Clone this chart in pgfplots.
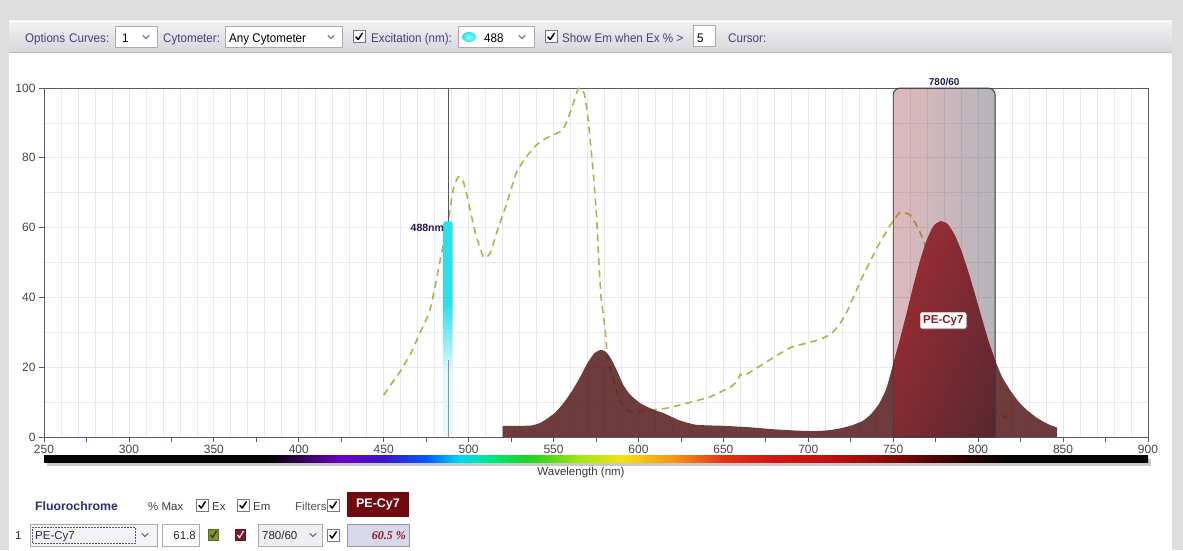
\documentclass[border=0pt]{standalone}
\usepackage{pgfplots}
\pgfplotsset{compat=1.18}
\usepackage{pgfplotstable}
\usepackage{fontspec}
\setmainfont{Liberation Sans}
\newfontfamily\narrowfont[FakeStretch=0.93]{Liberation Sans}
\newfontfamily\timesfont{Liberation Serif}
\usetikzlibrary{shadows}

% ---------- colours ----------
\definecolor{bggrey}{RGB}{222,222,222}
\definecolor{tbtop}{RGB}{242,242,244}
\definecolor{tbbot}{RGB}{214,214,220}
\definecolor{tbline}{RGB}{188,188,195}
\definecolor{axisc}{RGB}{95,85,115}
\definecolor{tickc}{RGB}{70,70,70}
\definecolor{gridc}{RGB}{232,232,236}
\definecolor{excol}{RGB}{172,182,70}
\definecolor{emcol}{RGB}{85,26,26}
\definecolor{emtop}{RGB}{172,40,46}
\definecolor{embot}{RGB}{112,36,40}
\definecolor{filtL}{RGB}{161,55,64}
\definecolor{filtR}{RGB}{45,45,62}
\definecolor{filtline}{RGB}{60,55,62}
\definecolor{laserc}{RGB}{40,225,235}
\definecolor{laserin}{RGB}{150,250,255}
\definecolor{lasfade}{RGB}{228,248,250}
\definecolor{exline}{RGB}{85,85,90}
\definecolor{tbtext}{RGB}{72,62,128}
\definecolor{boxc}{RGB}{170,170,175}
\definecolor{cbx}{RGB}{120,120,125}
\definecolor{chevc}{RGB}{80,90,125}
\definecolor{lab780}{RGB}{30,30,80}
\definecolor{lab488}{RGB}{45,25,75}
\definecolor{pecy}{RGB}{140,25,35}
\definecolor{pebox}{RGB}{205,205,205}
\definecolor{fluoc}{RGB}{40,50,110}
\definecolor{darkred}{RGB}{112,10,14}
\definecolor{lavender}{RGB}{216,216,236}
\definecolor{lavline}{RGB}{150,150,165}
\definecolor{wlc}{RGB}{55,55,60}
\definecolor{ptext}{RGB}{60,60,70}
\definecolor{ftext}{RGB}{80,80,100}
\definecolor{vtext}{RGB}{40,40,50}
\definecolor{ddtext}{RGB}{40,40,80}
\definecolor{ddfill}{RGB}{244,244,246}
\definecolor{dotc}{RGB}{90,90,90}
\definecolor{selfill}{RGB}{238,238,240}
\definecolor{grnline}{RGB}{90,110,30}
\definecolor{grnfill}{RGB}{125,150,40}
\definecolor{grnchk}{RGB}{40,50,10}
\definecolor{redline}{RGB}{100,20,30}
\definecolor{redfill}{RGB}{130,22,35}
% spectrum stops
\definecolor{sp400}{RGB}{45,0,75}
\definecolor{sp425}{RGB}{110,0,200}
\definecolor{sp450}{RGB}{60,20,200}
\definecolor{sp475}{RGB}{0,90,255}
\definecolor{sp495}{RGB}{0,220,240}
\definecolor{sp515}{RGB}{0,230,120}
\definecolor{sp535}{RGB}{30,210,30}
\definecolor{sp565}{RGB}{160,230,20}
\definecolor{sp590}{RGB}{245,225,20}
\definecolor{sp620}{RGB}{245,150,20}
\definecolor{sp650}{RGB}{225,50,20}
\definecolor{sp680}{RGB}{210,20,20}
\definecolor{sp710}{RGB}{200,15,15}
\definecolor{sp750}{RGB}{130,10,10}
\definecolor{sp790}{RGB}{50,0,0}

% 250 nm -> 25bp, 900 nm -> 75bp
\pgfdeclarehorizontalshading{spectrum}{100bp}{%
  color(0bp)=(black); color(25bp)=(black); color(35bp)=(black);
  color(36.54bp)=(sp400); color(38.46bp)=(sp425); color(40.38bp)=(sp450);
  color(42.31bp)=(sp475); color(43.85bp)=(sp495); color(45.38bp)=(sp515);
  color(46.92bp)=(sp535); color(49.23bp)=(sp565); color(51.15bp)=(sp590);
  color(53.46bp)=(sp620); color(55.77bp)=(sp650); color(58.08bp)=(sp680);
  color(60.38bp)=(sp710); color(63.46bp)=(sp750); color(66.54bp)=(sp790);
  color(68.85bp)=(black); color(75bp)=(black); color(100bp)=(black)}
\pgfdeclareverticalshading{laser}{100bp}{%
  color(0bp)=(lasfade); color(25bp)=(lasfade); color(40bp)=(lasfade);
  color(56bp)=(laserc); color(75bp)=(laserc); color(100bp)=(laserc)}

% ---------- spectra ----------
\pgfplotstableread{
wl    ex
450   12.0
455   15.5
460   19.0
466   24.0
471   29.5
477   36.0
481   45.0
485   55.0
488   62.0
491   71.0
494   74.6
497   73.0
500   67.0
504   58.4
508.5 51.7
510.5 51.5
513   53.0
517   59.3
522.5 67.0
528   75.6
534   80.3
540   83.7
546   85.7
554   87.5
557   89.4
561   94.6
564.7 99.9
568   98.5
570.4 90.8
573.4 75.6
575.5 62.0
576.5 51.7
578   40.0
580.4 30.7
582   22.0
585   17.0
587.5 12.6
591   8.6
595   7.4
599   7.2
607   7.7
617   8.3
628.7 9.7
642   11.5
654   14.3
658   16.0
660   18.0
662   17.5
672   20.5
689   25.5
700   27.0
707   28.0
713   29.5
718   32.0
722.8 36.0
732   46.0
742   55.6
750   62.0
754   64.3
760   63.6
766   58.4
772   50.7
778   42.0
783.6 32.6
791   23.0
801   13.5
809   7.7
817   5.4
}\extab

\pgfplotstableread{
wl    em
520   3.2
530   3.2
537   3.3
542   4.0
546   5.2
551   7.0
556   9.8
561   13.3
566   17.5
570   21.2
574   24.0
578   25.0
581   24.3
584   22.3
588   18.3
591   15.0
595   12.2
601   9.7
608   8.0
615   6.8
624   4.8
634   3.5
650   3.2
665   2.8
680   2.2
695   1.8
705   1.7
713   2.0
720   2.6
726   3.4
732   4.6
737   6.6
742   9.8
746   14.0
750   21.0
754   28.0
758   35.6
762   43.5
766   50.8
770   56.7
774   60.6
778   61.8
782   61.0
786   58.0
790   53.4
794   47.6
798   41.0
802   34.2
806   27.6
810   22.0
814   17.3
819   13.3
824   10.0
829   7.6
834   5.7
838   4.5
842   3.5
846.5 2.7
}\emtab

% widgets (pixel units, y downwards)
\newcommand\chk[2]{%
  \draw[draw=cbx, fill=white, line width=0.6pt] (#1,#2) rectangle ++(12,12);
  \draw[line width=1.5pt, black, line cap=round, line join=round]
    ({#1+3},{#2+6.5}) -- ({#1+5.2},{#2+9}) -- ({#1+9.3},{#2+2.8});}
\newcommand\chev[2]{%
  \draw[chevc, line width=0.9pt] ({#1-3.2},{#2-1.6}) -- (#1,{#2+1.6}) -- ({#1+3.2},{#2-1.6});}
\newcommand\wbox[4]{%
  \draw[draw=boxc, fill=white, line width=0.6pt] (#1,#2) rectangle (#3,#4);}

\newcommand\tbfont{\narrowfont\fontsize{12.5}{14}\selectfont}
\newcommand\pfont{\fontsize{11.5}{13}\selectfont}

\begin{document}
\begin{tikzpicture}
\useasboundingbox (0pt,0pt) rectangle (1183pt,550pt);

% ---------- window, toolbar, grid ----------
\begin{scope}[x=1pt, y=-1pt, shift={(0pt,550pt)}]
  \fill[bggrey] (0,0) rectangle (1183,550);
  \fill[white] (9,52) rectangle (1172,550);
  \shade[top color=tbtop, bottom color=tbbot] (9,21) rectangle (1172,52);
  \draw[tbline, line width=0.8pt] (9,52) -- (1172,52);
  \draw[white, line width=0.8pt] (9,21.5) -- (1172,21.5);

  \node[anchor=base west, inner sep=0, font=\tbfont, text=tbtext] at (25,42.5) {Options};
  \node[anchor=base west, inner sep=0, font=\tbfont, text=tbtext] at (69,42.5) {Curves:};
  \wbox{115}{26}{157}{47}
  \node[anchor=base west, inner sep=0, font=\tbfont] at (122,42.5) {1};
  \chev{146}{37}
  \node[anchor=base west, inner sep=0, font=\tbfont, text=tbtext] at (163,42.5) {Cytometer:};
  \wbox{225}{26}{342}{47}
  \node[anchor=base west, inner sep=0, font=\tbfont] at (229,42.5) {Any Cytometer};
  \chev{331}{37}
  \chk{353}{30.5}
  \node[anchor=base west, inner sep=0, font=\tbfont, text=tbtext] at (371,42.5) {Excitation (nm):};
  \wbox{458}{26}{534}{47}
  \shade[inner color=laserin, outer color=laserc] (469,37) ellipse (7 and 5);
  \node[anchor=base west, inner sep=0, font=\tbfont] at (484,42.5) {488};
  \chev{522}{37}
  \chk{545}{30.5}
  \node[anchor=base west, inner sep=0, font=\tbfont, text=tbtext] at (562,42.5) {Show Em when Ex \% >};
  \wbox{693}{25}{715}{46}
  \node[anchor=base west, inner sep=0, font=\tbfont] at (697,42.5) {5};
  \node[anchor=base west, inner sep=0, font=\tbfont, text=tbtext] at (728,42.5) {Cursor:};

  % plot grid: 10 nm and 10 % steps
  \foreach \w in {260,270,...,890}
    \draw[gridc, line width=0.7pt] ({44+1.698462*(\w-250)},88) -- ++(0,349);
  \foreach \v in {10,20,...,90}
    \draw[gridc, line width=0.7pt] (44,{437-3.49*\v}) -- (1148,{437-3.49*\v});
\end{scope}

% ---------- spectra axis ----------
\begin{axis}[
  at={(44pt,113pt)}, anchor=south west,
  scale only axis, width=1104pt, height=349pt,
  xmin=250, xmax=900, ymin=0, ymax=100,
  xtick={250,300,...,900}, minor xtick={275,325,...,875},
  ytick={0,20,...,100},
  tick pos=left, tick align=outside,
  major tick length=5pt, minor tick length=5pt,
  axis line style={draw=axisc, line width=0.9pt},
  tick style={draw=axisc, line width=0.8pt},
  ticklabel style={font=\fontsize{12}{14}\selectfont, text=tickc},
  /pgf/number format/assume math mode=true,
  /pgf/number format/1000 sep={},
  clip=false,
]
  % excitation (dashed)
  \addplot[excol, line width=1.6pt, dash pattern=on 7pt off 5pt, smooth, tension=0.35]
    table[x=wl, y=ex] {\extab};
  % 488 nm laser line
  \addplot[draw=exline, line width=1pt] coordinates {(488,0) (488,100)};
  \addplot[draw=none, shade, shading=laser, rounded corners=2pt] coordinates {(485.2,61.8) (490.6,61.8)} \closedcycle;
  \addplot[draw=exline, line width=0.8pt, opacity=0.6] coordinates {(488,0) (488,22)};
  % emission
  \addplot[draw=none, fill=emcol, fill opacity=0.85, smooth, tension=0.35]
    table[x=wl, y=em] {\emtab} \closedcycle;
  \addplot[draw=none, top color=emtop, bottom color=embot, fill opacity=0.92, smooth, tension=0.35,
    restrict x to domain=750:810]
    table[x=wl, y=em] {\emtab} \closedcycle;
  % 780/60 band-pass filter
  \draw[draw=filtline, line width=0.9pt, left color=filtL, right color=filtR, fill opacity=0.35]
    (axis cs:750,0) [rounded corners=7pt] -- (axis cs:750,100) -- (axis cs:810,100)
    [sharp corners] -- (axis cs:810,0) -- cycle;
  \node[font=\bfseries\fontsize{10}{12}\selectfont, text=lab780] at (axis cs:780,101.8) {780/60};
  \node[anchor=east, inner sep=0, font=\bfseries\fontsize{10.5}{12}\selectfont, text=lab488]
    at (axis cs:485.6,59.8) {488nm};
  \node[fill=white, draw=pebox, rounded corners=1.5pt, inner sep=2.8pt,
    font=\bfseries\fontsize{11.5}{13}\selectfont, text=pecy,
    drop shadow={opacity=0.35, shadow xshift=1pt, shadow yshift=-1.2pt}]
    at (axis cs:779.5,33.4) {PE-Cy7};
\end{axis}

% ---------- colour bar and lower panel ----------
\begin{scope}[x=1pt, y=-1pt, shift={(0pt,550pt)}]
  \fill[black, opacity=0.22] (47,459) rectangle (1151,465.5);
  \shade[shading=spectrum] (44,455) rectangle (1148,462);
  \node[font=\fontsize{11.5}{13}\selectfont, text=wlc] at (581,473) {Wavelength (nm)};

  \node[anchor=base west, inner sep=0, font=\bfseries\fontsize{12.3}{14}\selectfont, text=fluoc] at (35,510) {Fluorochrome};
  \node[anchor=base west, inner sep=0, font=\pfont, text=ptext] at (148,510) {\% Max};
  \chk{196}{499}
  \node[anchor=base west, inner sep=0, font=\pfont, text=ptext] at (212,510) {Ex};
  \chk{237}{499}
  \node[anchor=base west, inner sep=0, font=\pfont, text=ptext] at (253,510) {Em};
  \node[anchor=base west, inner sep=0, font=\pfont, text=ftext] at (295,510) {Filters};
  \chk{327}{499}
  \fill[darkred] (347,492) rectangle (409,517);
  \node[font=\bfseries\fontsize{12.5}{14}\selectfont, text=white] at (378,504.5) {PE-Cy7};

  \node[anchor=base west, inner sep=0, font=\pfont, text=vtext] at (15,539) {1};
  \draw[draw=boxc, fill=ddfill, line width=0.6pt] (30,524) rectangle (157,546);
  \draw[densely dotted, line width=0.5pt, dotc] (32.5,527) rectangle (135,543);
  \node[anchor=base west, inner sep=0, font=\pfont, text=ddtext] at (35,539) {PE-Cy7};
  \chev{145}{535}
  \wbox{162}{524}{199}{546}
  \node[anchor=base east, inner sep=0, font=\pfont, text=vtext] at (196,539) {61.8};
  \draw[draw=grnline, fill=grnfill] (208,529) rectangle (218.5,540);
  \draw[line width=1.2pt, grnchk] (210.5,535) -- (212.5,537.5) -- (216.5,531);
  \draw[draw=redline, fill=redfill] (235,529) rectangle (245.5,540);
  \draw[line width=1.2pt, white] (237.5,535) -- (239.5,537.5) -- (243.5,531);
  \draw[draw=boxc, fill=selfill, line width=0.6pt] (258,524) rectangle (322,546);
  \node[anchor=base west, inner sep=0, font=\pfont, text=vtext] at (262,539) {780/60};
  \chev{313}{535}
  \chk{327}{529}
  \draw[draw=lavline, fill=lavender, line width=0.6pt] (347,524) rectangle (409,546);
  \node[anchor=base east, inner sep=0, font=\timesfont\bfseries\itshape\fontsize{12}{14}\selectfont, text=pecy] at (406,539) {60.5 \%};
\end{scope}
\end{tikzpicture}
\end{document}
